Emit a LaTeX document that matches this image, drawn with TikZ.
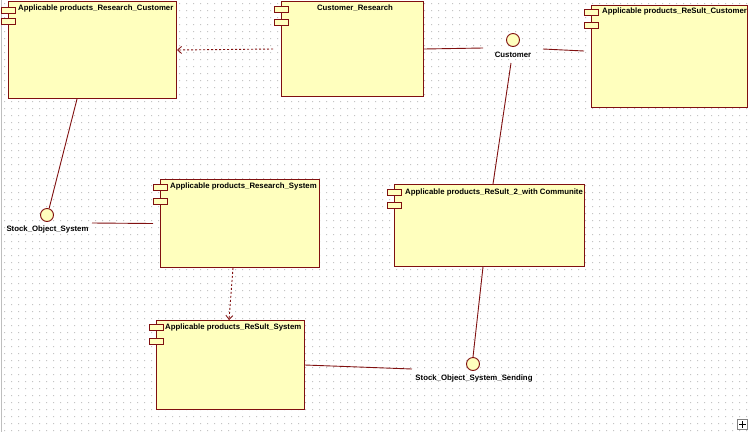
\documentclass[tikz,border=0pt]{standalone}
\usepackage{fontspec}
\setmainfont{Liberation Sans}
\usetikzlibrary{arrows.meta,calc}
\definecolor{umlfill}{RGB}{255,255,190}
\definecolor{umlline}{RGB}{128,16,16}
\definecolor{griddot}{RGB}{196,196,196}
\definecolor{frame}{RGB}{190,190,190}
\begin{document}
\begin{tikzpicture}[x=1pt,y=-1pt,
  comp/.style={draw=umlline, fill=umlfill, line width=1pt, rectangle, inner sep=0pt, anchor=north west},
  port/.style={draw=umlline, fill=umlfill, line width=0.9pt, rectangle, inner sep=0pt, minimum width=14pt, minimum height=6pt, anchor=north west},
  ttl/.style={font=\fontsize{7.8}{9}\selectfont\bfseries, inner sep=0pt, anchor=base west},
  lbl/.style={font=\fontsize{7.8}{9}\selectfont\bfseries, inner sep=0pt, anchor=base},
  iface/.style={circle, draw=umlline, fill=umlfill, line width=0.9pt, minimum size=13pt, inner sep=0pt},
  conn/.style={draw=umlline, line width=0.9pt},
  dep/.style={draw=umlline, line width=0.9pt, dash pattern=on 2pt off 2pt, -{Straight Barb[length=4pt,width=7pt,line width=0.8pt]}}
]
\useasboundingbox (0,0) rectangle (750,432);
\fill[white] (0,0) rectangle (750,432);
% grid dots
\fill[griddot] \foreach \x in {4,11,...,746} { \foreach \y in {3,10,...,430} { (\x,\y) rectangle ++(1,1) } };
\draw[frame, line width=1pt] (1,0) -- (1,432);

% components
\node[comp, minimum width=168pt, minimum height=97pt] (b1) at (8,1) {};
\node[port] (b1p1) at (1,7) {};
\node[port] (b1p2) at (1,18) {};
\node[ttl] (b1t) at (18,10.5) {Applicable products\_Research\_Customer};

\node[comp, minimum width=142pt, minimum height=95pt] (b2) at (281,1) {};
\node[port] (b2p1) at (274,6) {};
\node[port] (b2p2) at (274,19) {};
\node[lbl] (b2t) at (355,10.5) {Customer\_Research};

\node[comp, minimum width=156pt, minimum height=102pt] (b3) at (591,5) {};
\node[port] (b3p1) at (584,9) {};
\node[port] (b3p2) at (584,22) {};
\node[ttl] (b3t) at (602,13.5) {Applicable products\_ReSult\_Customer};

\node[comp, minimum width=159pt, minimum height=88pt] (b4) at (160,179) {};
\node[port] (b4p1) at (153,184) {};
\node[port] (b4p2) at (153,198) {};
\node[ttl] (b4t) at (170,188.5) {Applicable products\_Research\_System};

\node[comp, minimum width=190pt, minimum height=82pt] (b5) at (394,184) {};
\node[port] (b5p1) at (387,189) {};
\node[port] (b5p2) at (387,202) {};
\node[ttl] (b5t) at (405,194.5) {Applicable products\_ReSult\_2\_with Communite};

\node[comp, minimum width=148pt, minimum height=89pt] (b6) at (156,320) {};
\node[port] (b6p1) at (149,324) {};
\node[port] (b6p2) at (149,338) {};
\node[ttl] (b6t) at (165,329.5) {Applicable products\_ReSult\_System};

% interfaces
\node[iface] (cust) at (513,40) {};
\node[lbl] (custl) at (513,57) {Customer};
\node[iface] (sos) at (47,215) {};
\node[lbl] (sosl) at (47.5,231) {Stock\_Object\_System};
\node[iface] (soss) at (473,364) {};
\node[lbl] (sossl) at (474,380) {Stock\_Object\_System\_Sending};

% free ends
\coordinate (custL) at (483,48);
\coordinate (custR) at (543,49);
\coordinate (custB) at (511,63);
\coordinate (sosR) at (92,223);
\coordinate (sossL) at (412,369);

% connectors
\draw[conn] ($(b1.south west)+(69,0)$) -- (sos.72);
\draw[conn] (sosR) -- ($(b4.west)+(-7,0)$);
\draw[conn] (b2.east) -- (custL);
\draw[conn] (custR) -- ($(b3.north west)+(-7,46)$);
\draw[conn] (custB) -- ($(b5.north west)+(99,0)$);
\draw[conn] ($(b5.south west)+(89,0)$) -- (soss.north);
\draw[conn] (b6.east) -- (sossL);
\draw[dep] ($(b2.west)+(-8,0)$) -- (b1.east);
\draw[dep] ($(b4.south west)+(73,0)$) -- ($(b6.north west)+(73,0)$);

% corner icon
\node[draw=gray, fill=white, line width=0.8pt, minimum size=10pt, inner sep=0pt] (nav) at (742.5,424.5) {};
\draw[black, line width=0.8pt] ($(nav.center)+(-3.5,0)$) -- ($(nav.center)+(3.5,0)$);
\draw[black, line width=0.8pt] ($(nav.center)+(0,-3.5)$) -- ($(nav.center)+(0,3.5)$);
\end{tikzpicture}
\end{document}
